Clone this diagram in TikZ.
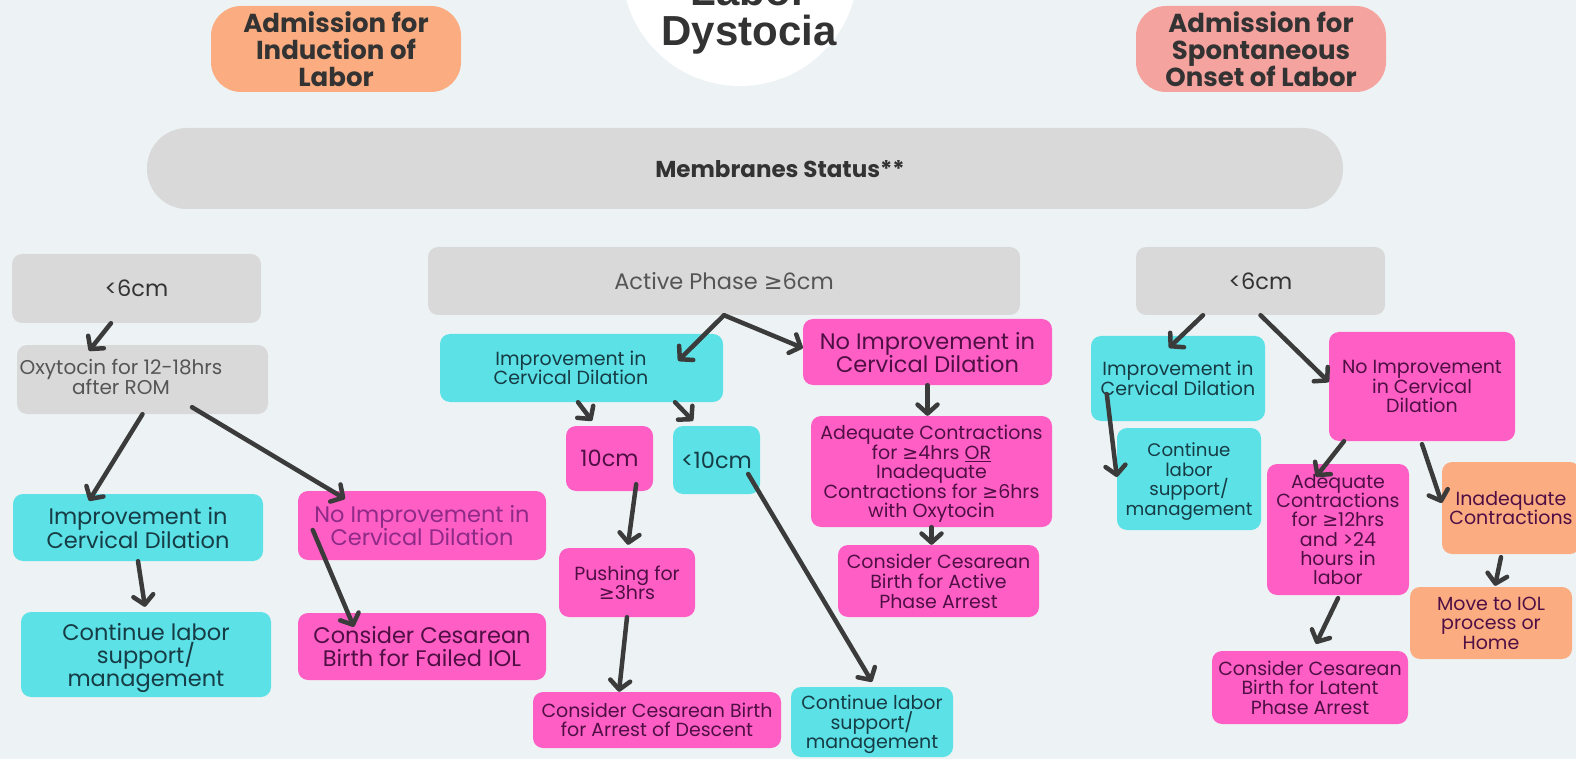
\documentclass[tikz,border=0pt]{standalone}
\usepackage{fontspec}
\setmainfont{Poppins}
\newfontfamily\titlefont{Liberation Sans}
\newfontfamily\symf{DejaVu Sans}
\newcommand\myge{{\symf ≥}}
\usetikzlibrary{arrows.meta,calc}
\pgfdeclarelayer{back}
\pgfdeclarelayer{front}
\pgfsetlayers{back,main,front}
\setlength{\lineskiplimit}{-50pt}
\definecolor{bgc}{HTML}{EDF3F5}
\definecolor{gry}{HTML}{D9D9D9}
\definecolor{cyn}{HTML}{5CE1E6}
\definecolor{pnk}{HTML}{FF5FC5}
\definecolor{org}{HTML}{FBAD81}
\definecolor{slm}{HTML}{F5A39F}
\definecolor{arrc}{HTML}{3B3B3B}
\definecolor{tgray}{HTML}{333333}
\definecolor{tgray2}{HTML}{555555}
\definecolor{tcyan}{HTML}{163C45}
\definecolor{tpink}{HTML}{4F0F45}
\definecolor{tpink2}{HTML}{8E2A87}
\tikzset{
  fsz/.style 2 args={font=\fontsize{#1}{#2}\selectfont},
  wh/.style 2 args={minimum width=#1pt, minimum height=#2pt},
  box/.style={rounded corners=10pt, inner sep=0pt, align=center, text depth=0pt},
  gbox/.style={box, fill=gry, text=tgray},
  cbox/.style={box, fill=cyn, text=tcyan},
  pbox/.style={box, fill=pnk, text=tpink},
  obox/.style={box, fill=org, text=tpink},
  head/.style={rounded corners=30pt, inner sep=0pt, align=center, text=tgray, text depth=0pt,
     font=\bfseries\fontsize{26}{27}\selectfont},
  arr/.style={draw=arrc, line width=4.5pt, line cap=round,
     -{Straight Barb[length=9pt,width=20pt,round]}}
}
\begin{document}
\begin{tikzpicture}[x=1pt,y=-1pt]
\useasboundingbox (0,0) rectangle (1585,759);
\fill[bgc] (0,0) rectangle (1585,759);
% title
\node[circle, fill=white, minimum size=236pt, inner sep=0pt] (tc) at (740,-32) {};
\node[anchor=base, text=tgray, font=\titlefont\bfseries\fontsize{42}{42}\selectfont] (t1) at (749,6) {Labor};
\node[anchor=base, text=tgray, font=\titlefont\bfseries\fontsize{42}{42}\selectfont] (t2) at (749,46) {Dystocia};
% headers
\node[head, fill=org, wh={250}{86}] (ind) at (336,49) {Admission for\\Induction of\\Labor};
\node[head, fill=slm, wh={250}{86}] (spo) at (1261,49) {Admission for\\Spontaneous\\Onset of Labor};
\node[gbox, rounded corners=40pt, wh={1196}{81}, font=\bfseries\fontsize{23}{26}\selectfont] (mem) at (745,168.5) {\hspace*{70pt}Membranes Status**};
% level 2
\node[gbox, wh={249}{69}, fsz={22.5}{24}] (l6) at (136.5,288.5) {<6cm};
\node[gbox, wh={592}{68}, fsz={22.5}{24}, text=tgray2] (act) at (724,281) {Active Phase \myge6cm};
\node[gbox, wh={249}{68}, fsz={22.5}{24}] (r6) at (1260.5,281) {<6cm};
% left column
\node[gbox, wh={251}{69}] (oxy) at (142.5,379.5) {};
\node[align=center, text depth=0pt, text=tgray2, fsz={20}{20}] (oxyt) at (121,377) {Oxytocin for 12-18hrs\\after ROM};
\node[cbox, wh={250}{67}, fsz={22.5}{24}] (limp) at (138,527.5) {Improvement in\\Cervical Dilation};
\node[pbox, wh={248}{69}, fsz={22.5}{23}, text=tpink2] (lnoimp) at (422,525.5) {No Improvement in\\Cervical Dilation};
\node[cbox, wh={250}{85}, fsz={22.5}{23}] (lcont) at (146,654.5) {Continue labor\\support/\\management};
\node[pbox, wh={248}{67}, fsz={22.5}{23}] (lfail) at (422,646.5) {Consider Cesarean\\Birth for Failed IOL};
% middle column
\node[cbox, wh={283}{68}, fsz={19}{19}] (mimp) at (581.5,368) {Improvement in\hspace*{21pt}\\Cervical Dilation\hspace*{21pt}};
\node[pbox, wh={249}{66}, fsz={22.5}{23}] (mnoimp) at (927.5,352) {No Improvement in\\Cervical Dilation};
\node[pbox, wh={87}{65}, fsz={22.5}{24}] (ten) at (609.5,458.5) {10cm};
\node[cbox, wh={87}{68}, fsz={22.5}{24}] (lt10) at (716.5,460) {<10cm};
\node[pbox, wh={241}{111}, fsz={19}{19.5}] (madeq) at (931.5,471.5) {Adequate Contractions\\for \myge4hrs \underline{OR}\\Inadequate\\Contractions for \myge6hrs\\with Oxytocin};
\node[pbox, wh={136}{69}, fsz={19}{19.5}] (push) at (627,582.5) {Pushing for\\\myge3hrs};
\node[pbox, wh={201}{72}, fsz={19}{19.8}] (mact) at (938.5,581) {Consider Cesarean\\Birth for Active\\Phase Arrest};
\node[pbox, wh={248}{56}, fsz={19}{19}] (desc) at (657,720) {Consider Cesarean Birth\\for Arrest of Descent};
\node[cbox, wh={162}{70}, fsz={19}{19.5}] (mcont) at (872,722) {Continue labor\\support/\\management};
% right column
\node[cbox, wh={174}{85}, fsz={19}{20}] (rimp) at (1178,378.5) {Improvement in\\Cervical Dilation};
\node[cbox, wh={144}{102}, fsz={18.2}{19.5}] (rcont) at (1189,479) {Continue\\labor\\support/\\management};
\node[pbox, wh={186}{109}, fsz={19}{19.5}] (rnoimp) at (1422,386.5) {No Improvement\\in Cervical\\Dilation};
\node[pbox, wh={142}{131}, fsz={19}{19.3}] (radeq) at (1338,529.5) {Adequate\\Contractions\\for \myge12hrs\\and >24\\hours in\\labor};
\node[obox, wh={138}{92}, fsz={19}{19}] (inad) at (1511,508) {Inadequate\\Contractions};
\node[obox, wh={162}{72}, fsz={19}{19.5}] (iol) at (1491,623) {Move to IOL\\process or\\Home};
\node[pbox, wh={196}{73}, fsz={19}{19.5}] (latent) at (1310,687.5) {Consider Cesarean\\Birth for Latent\\Phase Arrest};
% connectors behind the membranes bar
\begin{pgfonlayer}{back}
\draw[arr] (ind.south) -- (l6.north);
\draw[arr] (ind.south) -- (act.west);
\draw[arr] (spo.south) -- (act.east);
\draw[arr] (spo.south) -- (r6.north);
\end{pgfonlayer}
% connectors on top
\begin{pgfonlayer}{front}
\draw[arr] ([xshift=-25.5pt]l6.south) -- ([xshift=-53.5pt,yshift=-6pt]oxy.north);
\draw[arr] (oxy.south) -- ([xshift=-49pt,yshift=-7pt]limp.north);
\draw[arr] ([xshift=49.5pt,yshift=7pt]oxy.south) -- ([xshift=-77pt,yshift=-8pt]lnoimp.north);
\draw[arr] (limp.south) -- ([xshift=-1pt,yshift=5pt]lcont.north);
\draw[arr] ([xshift=15pt,yshift=-4.5pt]lnoimp.west) -- ([xshift=56pt,yshift=-14pt]lfail.north west);
\draw[arr] (act.south) -- ([xshift=-45pt,yshift=-27pt]mimp.north east);
\draw[arr] (act.south) -- ([yshift=4pt]mnoimp.west);
\draw[arr] ([xshift=-3.5pt]mimp.south) -- ([xshift=-17.5pt,yshift=5pt]ten.north);
\draw[arr] ([xshift=93.5pt]mimp.south) -- ([xshift=-23.5pt,yshift=5pt]lt10.north);
\draw[arr] ([xshift=-17pt,yshift=7pt]ten.south east) -- ([xshift=1pt,yshift=3pt]push.north);
\draw[arr] (push.south) -- ([xshift=-38pt]desc.north);
\draw[arr] ([xshift=-12pt,yshift=-14pt]lt10.east) -- ([yshift=5pt]mcont.north);
\draw[arr] (mnoimp.south) -- (mnoimp.south |- madeq.north);
\draw[arr] (madeq.south) -- (madeq.south |- mact.north);
\draw[arr] ([xshift=-57.5pt]r6.south) -- ([xshift=-9pt,yshift=-12pt]rimp.north);
\draw[arr] (r6.south) -- ([yshift=4.5pt]rnoimp.west);
\draw[arr] ([xshift=16pt,yshift=-15.5pt]rimp.west) -- ([yshift=2pt]rcont.west);
\draw[arr] ([xshift=-78pt]rnoimp.south) -- ([xshift=-22pt,yshift=-13pt]radeq.north);
\draw[arr] ([yshift=-3pt]rnoimp.south) -- ([yshift=5pt]inad.west);
\draw[arr] ([xshift=-10pt,yshift=-3pt]inad.south) -- ([xshift=4pt,yshift=1pt]iol.north);
\draw[arr] ([yshift=-3pt]radeq.south) -- ([xshift=6pt,yshift=7pt]latent.north);
\fill[white] (1576,0) rectangle (1585,759);
\end{pgfonlayer}
\end{tikzpicture}
\end{document}
